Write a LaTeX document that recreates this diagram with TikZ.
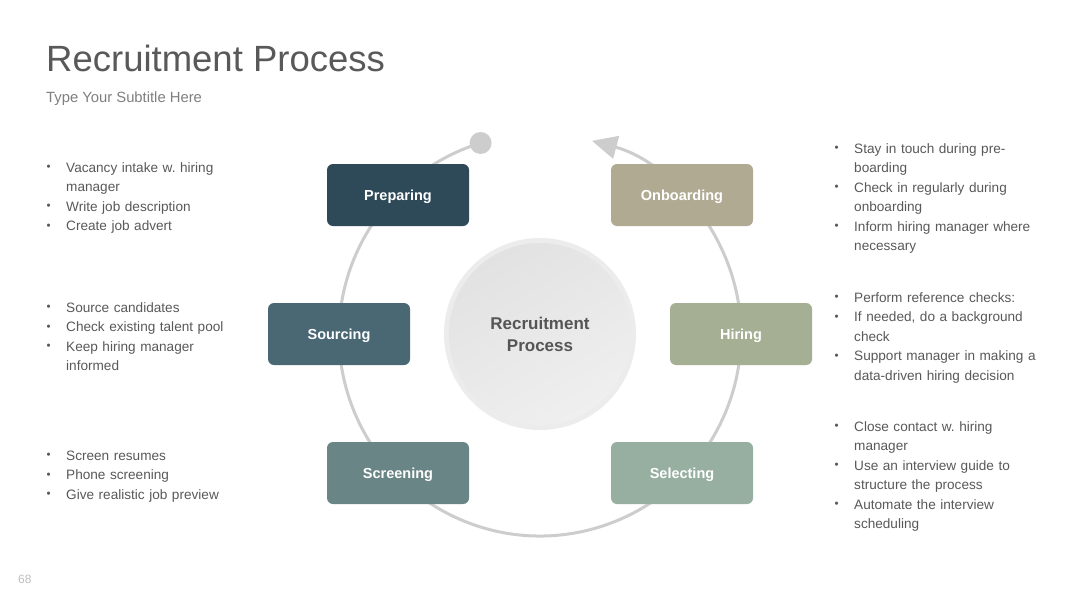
\documentclass[tikz,border=0pt]{standalone}
\usepackage{fontspec}
\setmainfont{Liberation Sans}
\usetikzlibrary{arrows.meta}
\definecolor{titlegray}{HTML}{595959}
\definecolor{subgray}{HTML}{7F7F7F}
\definecolor{bodygray}{HTML}{595959}
\definecolor{pagegray}{HTML}{BFBFBF}
\definecolor{ringgray}{HTML}{CDCDCD}
\definecolor{cPrep}{HTML}{2E4A58}
\definecolor{cOnb}{HTML}{B0AA93}
\definecolor{cSrc}{HTML}{4A6874}
\definecolor{cHir}{HTML}{A5AF93}
\definecolor{cScr}{HTML}{6A8585}
\definecolor{cSel}{HTML}{97AFA0}
\definecolor{rimgray}{HTML}{ECECEC}
\definecolor{innerA}{HTML}{E2E2E2}
\definecolor{innerB}{HTML}{EFEFEF}
\definecolor{centertext}{HTML}{555555}
\frenchspacing
\newcommand\bitem[1]{\parskip=0pt\relax\hangindent=20pt\relax\hangafter=1\relax\noindent\makebox[20pt][l]{\hspace{0.5pt}\raisebox{1.2pt}{\scalebox{0.85}{•}}}#1\par}
\tikzset{
  stepbox/.style={rectangle, rounded corners=6pt, minimum width=142pt, minimum height=62pt, inner sep=0pt, text height=12.5pt, text depth=1.5pt, text=white, font=\bfseries\fontsize{14.5}{16}\selectfont},
  bullets/.style={anchor=base west, inner sep=0pt, text width=240pt, align=left, text=bodygray, font=\fontsize{13.6}{19.5}\selectfont},
  ring/.style={draw=ringgray, line width=3pt},
}
\begin{document}
\begin{tikzpicture}[x=1pt,y=-1pt]
\useasboundingbox[fill=white] (0,0) rectangle (1080,608);
% title
\node[anchor=base west, inner sep=0pt, text=titlegray, font=\fontsize{36.5}{40}\selectfont] (title) at (46,71) {Recruitment Process};
\node[anchor=base west, inner sep=0pt, text=subgray, font=\fontsize{14.8}{17}\selectfont] (subtitle) at (46,102) {Type Your Subtitle Here};
\node[anchor=base west, inner sep=0pt, text=pagegray, font=\fontsize{12}{14}\selectfont] (page) at (18,583) {68};
% ring
\coordinate (c) at (540,335);
\node[circle, fill=ringgray, minimum size=22pt, inner sep=0pt] (dot) at ([shift={(252.8:201)}]c) {};
\coordinate (tip) at ([shift={(-75:200)}]c);
\draw[ring, -{Triangle[length=25pt, width=23pt]}] (dot.center) arc[start angle=252.8, end angle=-75, radius=201];
% center circle
\node[circle, fill=rimgray, minimum size=192pt, inner sep=0pt] (center) at (540,334) {};
\shade[top color=innerA, bottom color=innerB, shading angle=30] (center.center) circle (91);
\node[align=center, text=centertext, font=\bfseries\fontsize{17}{22}\selectfont] (ctext) at (540,334) {Recruitment\\Process};
% boxes
\node[stepbox, fill=cPrep] (prep) at (398,195) {Preparing};
\node[stepbox, fill=cOnb] (onb) at (682,195) {Onboarding};
\node[stepbox, fill=cSrc] (src) at (339,334) {Sourcing};
\node[stepbox, fill=cHir] (hir) at (741,334) {Hiring};
\node[stepbox, fill=cScr] (scr) at (398,473) {Screening};
\node[stepbox, fill=cSel] (sel) at (682,473) {Selecting};
% left texts
\node[bullets] (l1) at (46,172) {\bitem{Vacancy intake w. hiring\newline manager}\bitem{Write job description}\bitem{Create job advert}};
\node[bullets] (l2) at (46,312) {\bitem{Source candidates}\bitem{Check existing talent pool}\bitem{Keep hiring manager\newline informed}};
\node[bullets] (l3) at (46,460) {\bitem{Screen resumes}\bitem{Phone screening}\bitem{Give realistic job preview}};
% right texts
\node[bullets] (r1) at (834,153) {\bitem{Stay in touch during pre-\newline boarding}\bitem{Check in regularly during\newline onboarding}\bitem{Inform hiring manager where\newline necessary}};
\node[bullets] (r2) at (834,302) {\bitem{Perform reference checks:}\bitem{If needed, do a background\newline check}\bitem{Support manager in making a\newline data-driven hiring decision}};
\node[bullets] (r3) at (834,431) {\bitem{Close contact w. hiring\newline manager}\bitem{Use an interview guide to\newline structure the process}\bitem{Automate the interview\newline scheduling}};
\end{tikzpicture}
\end{document}
